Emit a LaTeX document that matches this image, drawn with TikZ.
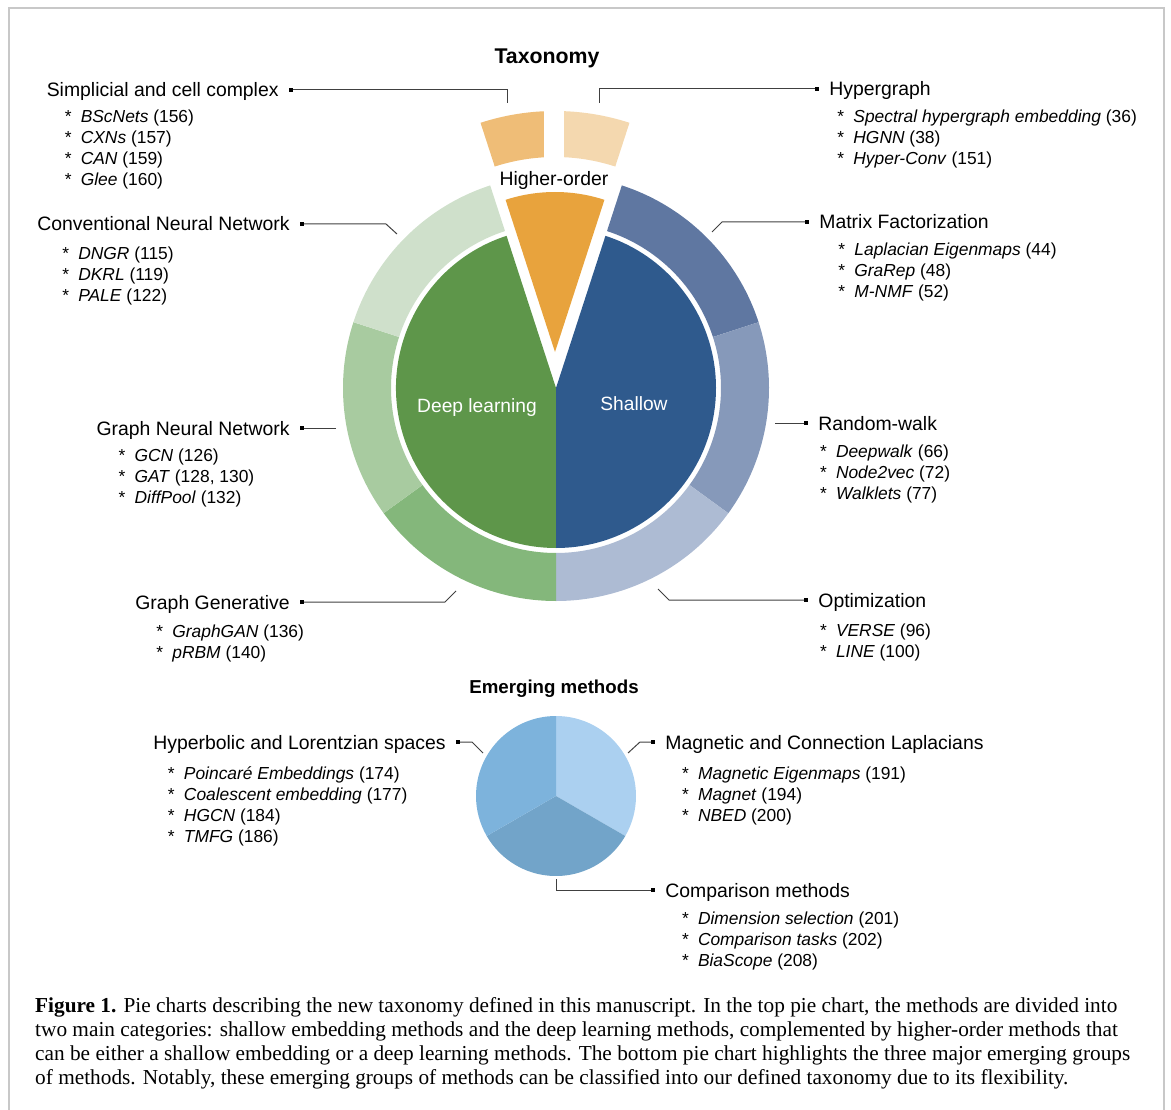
\documentclass[tikz,border=0pt]{standalone}
\usepackage{fontspec}
\setmainfont{Liberation Sans}
\newfontfamily\capfont{Liberation Serif}
\usetikzlibrary{positioning}

\definecolor{deepgreen}{HTML}{5E964A}
\definecolor{shallowblue}{HTML}{2F5A8D}
\definecolor{highorange}{HTML}{E8A33D}
\definecolor{mfblue}{HTML}{5F77A1}
\definecolor{rwblue}{HTML}{8699BA}
\definecolor{optblue}{HTML}{ADBBD3}
\definecolor{gggreen}{HTML}{84B77B}
\definecolor{gnngreen}{HTML}{A8CBA0}
\definecolor{cnngreen}{HTML}{CFE0CB}
\definecolor{simporange}{HTML}{EFBD77}
\definecolor{hyporange}{HTML}{F4D8AF}
\definecolor{magblue}{HTML}{ABD0F0}
\definecolor{hypbblue}{HTML}{7DB3DC}
\definecolor{cmpblue}{HTML}{72A4C9}
\definecolor{framegray}{HTML}{C8C8C8}

\newcommand{\meth}[2]{\strut\makebox[16pt][l]{*}\textit{#1} (#2)}

\tikzset{
  lbl/.style={font=\fontsize{19.4}{23}\selectfont, inner sep=0pt, text height=14pt, text depth=0pt},
  items/.style={font=\fontsize{17.4}{21}\selectfont, inner sep=0pt, align=left},
  ttl/.style={font=\bfseries, inner sep=0pt, text height=15pt, text depth=0pt},
  sq/.style={fill=black, minimum size=4pt, inner sep=0pt},
  conn/.style={draw=black!75, line width=1pt}
}

\begin{document}
\begin{tikzpicture}[x=1pt,y=1pt]
\useasboundingbox (0,0) rectangle (1171,-1110);
\draw[framegray, line width=2pt] (9,-1110) -- (9,-8) -- (1164,-8) -- (1164,-1110);

% top pie
\coordinate (C) at (556,-388);
\coordinate (O) at (555,-352);
\foreach \a/\b/\c in {72/18/mfblue, 18/-36/rwblue, -36/-90/optblue, -90/-144/gggreen, -144/-198/gnngreen, -198/-252/cnngreen}
  \fill[\c] ([shift={(\a:213)}]C) arc[start angle=\a, end angle=\b, radius=213] -- ([shift={(\b:165)}]C) arc[start angle=\b, end angle=\a, radius=165] -- cycle;
\fill[deepgreen] (C) -- ([shift={(108:160)}]C) arc[start angle=108, end angle=270, radius=160] -- cycle;
\fill[shallowblue] (C) -- ([shift={(-90:160)}]C) arc[start angle=-90, end angle=72, radius=160] -- cycle;
\fill[highorange] (O) -- ([shift={(72:160)}]O) arc[start angle=72, end angle=108, radius=160] -- cycle;
\fill[simporange] ([shift={(108:241)}]O) arc[start angle=108, end angle=90, radius=241] -- ([shift={(90:195)}]O) arc[start angle=90, end angle=108, radius=195] -- cycle;
\fill[hyporange] ([shift={(90:241)}]O) arc[start angle=90, end angle=72, radius=241] -- ([shift={(72:195)}]O) arc[start angle=72, end angle=90, radius=195] -- cycle;
\fill[white] (543.5,-100) rectangle (564,-162);

\node[ttl, font=\fontsize{21.3}{25}\selectfont\bfseries] (taxo) at (547,-56) {Taxonomy};
\node[lbl] (higher) at (554,-179) {Higher-order};
\node[lbl, font=\fontsize{19.2}{23}\selectfont, text=white] (deep) at (477,-405) {Deep learning};
\node[lbl, font=\fontsize{19.2}{23}\selectfont, text=white] (shallow) at (634,-403) {Shallow};

% connector ends
\coordinate (simpend) at (507,-103);
\coordinate (hypend) at (599,-103);
\coordinate (cnnend) at (397,-234);
\coordinate (mfend) at (712,-232);
\coordinate (gnnend) at (336,-428);
\coordinate (rwend) at (775,-423);
\coordinate (ggend) at (456,-591);
\coordinate (optend) at (658,-589);

\node[sq] (simpsq) at (291,-90) {};
\node[sq] (hypsq) at (817,-89) {};
\node[sq] (cnnsq) at (302,-224) {};
\node[sq] (mfsq) at (807,-222) {};
\node[sq] (gnnsq) at (302,-428) {};
\node[sq] (rwsq) at (806,-423) {};
\node[sq] (ggsq) at (302,-602) {};
\node[sq] (optsq) at (806,-600) {};

\draw[conn] (simpend) |- (simpsq);
\draw[conn] (hypend) |- (hypsq);
\draw[conn] (cnnend) -- ++(-11,10) -- (cnnsq);
\draw[conn] (mfend) -- ++(10,10) -- (mfsq);
\draw[conn] (gnnend) -- (gnnsq);
\draw[conn] (rwend) -- (rwsq);
\draw[conn] (ggend) -- ++(-11,-11) -- (ggsq);
\draw[conn] (optend) -- ++(11,-11) -- (optsq);

\node[lbl, left=10pt of simpsq] (simp) {Simplicial and cell complex};
\node[items, below right=10.6pt and 18pt of simp.south west] (simpit) {\meth{BScNets}{156}\\ \meth{CXNs}{157}\\ \meth{CAN}{159}\\ \meth{Glee}{160}};
\node[lbl, right=10pt of hypsq] (hyp) {Hypergraph};
\node[items, below right=11.6pt and 8pt of hyp.south west] (hypit) {\meth{Spectral hypergraph embedding}{36}\\ \meth{HGNN}{38}\\ \meth{Hyper-Conv}{151}};
\node[lbl, left=10pt of cnnsq] (cnn) {Conventional Neural Network};
\node[items, below right=13pt and 25pt of cnn.south west] (cnnit) {\meth{DNGR}{115}\\ \meth{DKRL}{119}\\ \meth{PALE}{122}};
\node[lbl, right=10pt of mfsq] (mf) {Matrix Factorization};
\node[items, below right=11.6pt and 19pt of mf.south west] (mfit) {\meth{Laplacian Eigenmaps}{44}\\ \meth{GraRep}{48}\\ \meth{M-NMF}{52}};
\node[lbl, left=10pt of gnnsq] (gnn) {Graph Neural Network};
\node[items, below right=11.3pt and 22pt of gnn.south west] (gnnit) {\meth{GCN}{126}\\ \meth{GAT}{128, 130}\\ \meth{DiffPool}{132}};
\node[lbl, right=10pt of rwsq] (rw) {Random-walk};
\node[items, below right=12pt and 1.6pt of rw.south west] (rwit) {\meth{Deepwalk}{66}\\ \meth{Node2vec}{72}\\ \meth{Walklets}{77}};
\node[lbl, left=10pt of ggsq] (gg) {Graph Generative};
\node[items, below right=12.9pt and 21pt of gg.south west] (ggit) {\meth{GraphGAN}{136}\\ \meth{pRBM}{140}};
\node[lbl, right=10pt of optsq] (opt) {Optimization};
\node[items, below right=14.6pt and 1.6pt of opt.south west] (optit) {\meth{VERSE}{96}\\ \meth{LINE}{100}};

% bottom pie
\coordinate (B) at (556,-796);
\fill[magblue] (B) -- ([shift={(90:80)}]B) arc[start angle=90, end angle=-30, radius=80] -- cycle;
\fill[cmpblue] (B) -- ([shift={(-30:80)}]B) arc[start angle=-30, end angle=-150, radius=80] -- cycle;
\fill[hypbblue] (B) -- ([shift={(90:80)}]B) arc[start angle=90, end angle=210, radius=80] -- cycle;

\node[ttl, font=\fontsize{18.7}{22}\selectfont\bfseries] (emerg) at (554,-686) {Emerging methods};

\coordinate (hypbend) at (483,-753);
\coordinate (magend) at (628,-753);
\coordinate (cmpend) at (556,-879);
\node[sq] (hypbsq) at (458,-742) {};
\node[sq] (magsq) at (653,-742) {};
\node[sq] (cmpsq) at (653,-890) {};
\draw[conn] (hypbend) -- ++(-11,11) -- (hypbsq);
\draw[conn] (magend) -- ++(12,11) -- (magsq);
\draw[conn] (cmpend) |- (cmpsq);

\node[lbl, left=10pt of hypbsq] (hypb) {Hyperbolic and Lorentzian spaces};
\node[items, below right=15.6pt and 14.6pt of hypb.south west] (hypbit) {\meth{Poincaré Embeddings}{174}\\ \meth{Coalescent embedding}{177}\\ \meth{HGCN}{184}\\ \meth{TMFG}{186}};
\node[lbl, right=10pt of magsq] (mag) {Magnetic and Connection Laplacians};
\node[items, below right=15.6pt and 16.6pt of mag.south west] (magit) {\meth{Magnetic Eigenmaps}{191}\\ \meth{Magnet}{194}\\ \meth{NBED}{200}};
\node[lbl, right=10pt of cmpsq] (cmp) {Comparison methods};
\node[items, below right=12.6pt and 16.6pt of cmp.south west] (cmpit) {\meth{Dimension selection}{201}\\ \meth{Comparison tasks}{202}\\ \meth{BiaScope}{208}};

% caption
\node[anchor=north west, inner sep=0pt, align=left, font=\capfont\fontsize{21.3}{24}\selectfont] (cap) at (35,-995) {\strut\textbf{Figure 1.} Pie charts describing the new taxonomy defined in this manuscript. In the top pie chart, the methods are divided into\\
two main categories: shallow embedding methods and the deep learning methods, complemented by higher-order methods that\\
can be either a shallow embedding or a deep learning methods. The bottom pie chart highlights the three major emerging groups\\
of methods. Notably, these emerging groups of methods can be classified into our defined taxonomy due to its flexibility.};
\end{tikzpicture}
\end{document}
